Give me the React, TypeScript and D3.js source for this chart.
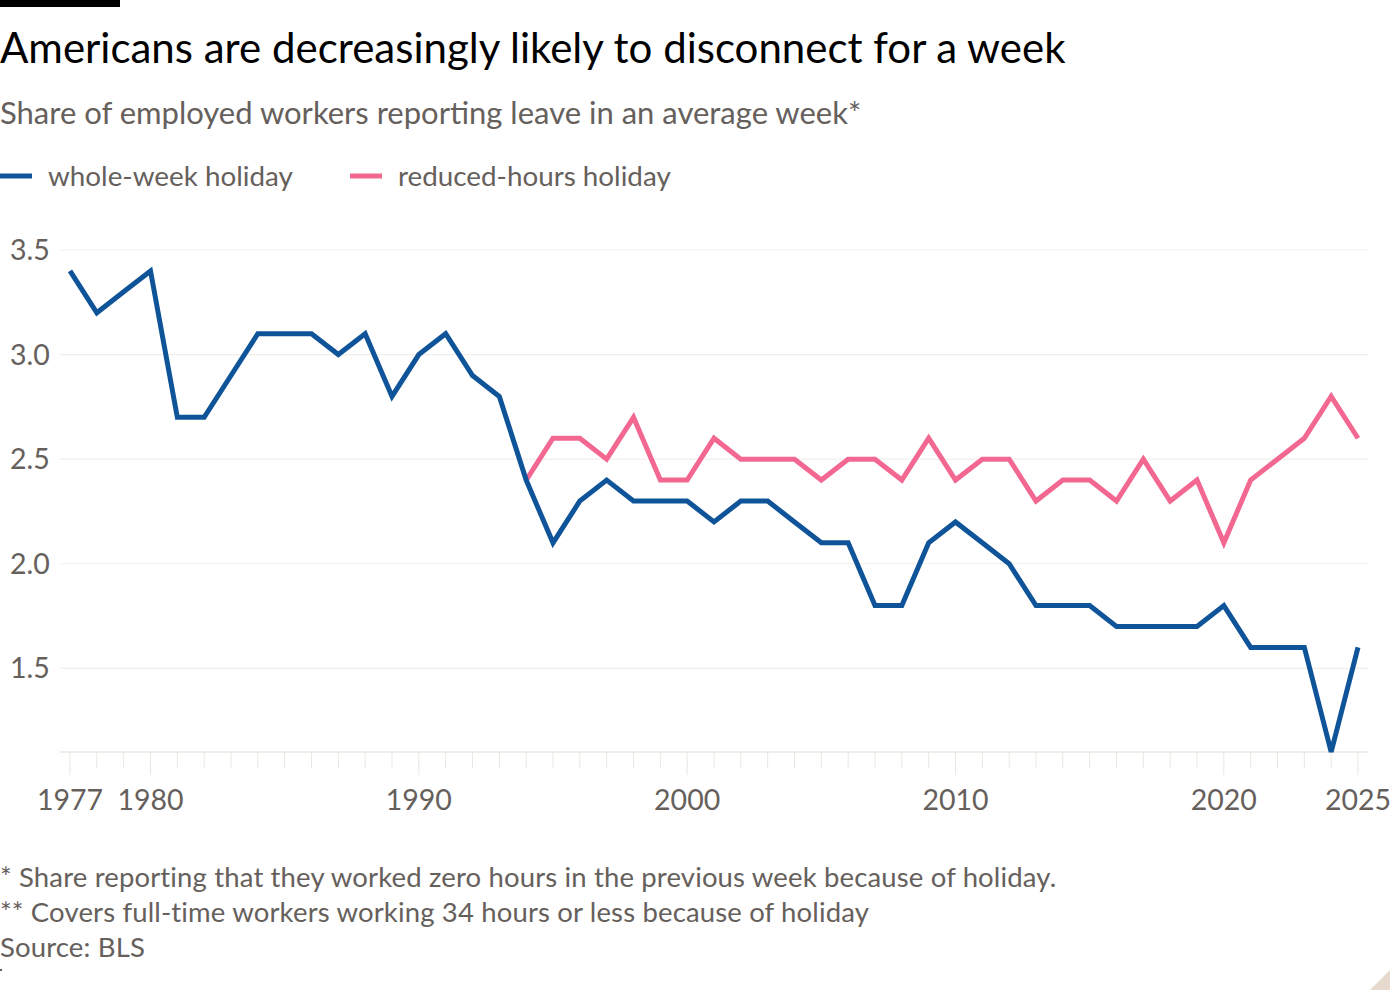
import React, { useEffect, useRef } from 'react';
import * as d3 from 'd3';

const years = [
  1977, 1978, 1979, 1980, 1981, 1982, 1983, 1984, 1985, 1986, 1987, 1988, 1989,
  1990, 1991, 1992, 1993, 1994, 1995, 1996, 1997, 1998, 1999, 2000, 2001, 2002,
  2003, 2004, 2005, 2006, 2007, 2008, 2009, 2010, 2011, 2012, 2013, 2014, 2015,
  2016, 2017, 2018, 2019, 2020, 2021, 2022, 2023, 2024, 2025,
];

const wholeWeek = [
  3.4, 3.2, 3.3, 3.4, 2.7, 2.7, 2.9, 3.1, 3.1, 3.1, 3.0, 3.1, 2.8,
  3.0, 3.1, 2.9, 2.8, 2.4, 2.1, 2.3, 2.4, 2.3, 2.3, 2.3, 2.2, 2.3,
  2.3, 2.2, 2.1, 2.1, 1.8, 1.8, 2.1, 2.2, 2.1, 2.0, 1.8, 1.8, 1.8,
  1.7, 1.7, 1.7, 1.7, 1.8, 1.6, 1.6, 1.6, 1.1, 1.6,
];

// reduced-hours series starts in 1994
const reducedYears = years.slice(17);
const reducedHours = [
  2.4, 2.6, 2.6, 2.5, 2.7, 2.4, 2.4, 2.6, 2.5, 2.5, 2.5, 2.4, 2.5,
  2.5, 2.4, 2.6, 2.4, 2.5, 2.5, 2.3, 2.4, 2.4, 2.3, 2.5, 2.3, 2.4,
  2.1, 2.4, 2.5, 2.6, 2.8, 2.6,
];

const yTicks = [1.5, 2.0, 2.5, 3.0, 3.5];
const xTickLabels = [1977, 1980, 1990, 2000, 2010, 2020, 2025];

const series = [
  { name: 'whole-week holiday', color: '#0f5499', xs: years, ys: wholeWeek },
  { name: 'reduced-hours holiday', color: '#f26891', xs: reducedYears, ys: reducedHours },
];

const FONT = 'Lato, "Noto Sans", sans-serif';
const GREY = '#66605c';

export default function App() {
  const svgRef = useRef<SVGSVGElement>(null);

  useEffect(() => {
    document.body.style.margin = '0';
    if (!svgRef.current) return;
    const width = 1400;
    const height = 1000;
    const svg = d3.select(svgRef.current);
    svg.selectAll('*').remove();
    svg.attr('width', width).attr('height', height).attr('viewBox', [0, 0, width, height])
      .style('font-family', FONT).style('background', '#fff').style('display', 'block');

    const x = d3.scaleLinear().domain([1977, 2025]).range([70, 1358]);
    const y = d3.scaleLinear().domain([1.1, 3.5]).range([752, 250]);

    // top bar
    svg.append('rect').attr('x', 0).attr('y', 0).attr('width', 120).attr('height', 7).attr('fill', '#000');

    svg.append('text').attr('x', 0).attr('y', 63)
      .attr('font-size', 42).attr('fill', '#000')
      .text('Americans are decreasingly likely to disconnect for a week');

    svg.append('text').attr('x', 0).attr('y', 124)
      .attr('font-size', 31).attr('fill', GREY)
      .text('Share of employed workers reporting leave in an average week*');

    // legend
    const legendX = [0, 350];
    series.forEach((s, i) => {
      const g = svg.append('g').attr('transform', `translate(${legendX[i]},176)`);
      g.append('line').attr('x1', 0).attr('x2', 32).attr('y1', 0).attr('y2', 0)
        .attr('stroke', s.color).attr('stroke-width', 5);
      g.append('text').attr('x', 48).attr('y', 0).attr('dy', '0.35em')
        .attr('font-size', 27.8).attr('fill', GREY).text(s.name);
    });

    // gridlines + y labels
    const grid = svg.append('g');
    yTicks.forEach((t) => {
      grid.append('line').attr('x1', 60).attr('x2', 1368).attr('y1', y(t)).attr('y2', y(t))
        .attr('stroke', '#f2efeb').attr('stroke-width', 1.2);
      grid.append('text').attr('x', 10).attr('y', y(t)).attr('dy', '0.35em')
        .attr('font-size', 28.5).attr('fill', GREY).text(d3.format('.1f')(t));
    });

    // x axis
    const axis = svg.append('g');
    axis.append('line').attr('x1', 60).attr('x2', 1368).attr('y1', y(1.1)).attr('y2', y(1.1))
      .attr('stroke', '#ebe6e0').attr('stroke-width', 1.5);
    years.forEach((yr) => {
      const major = xTickLabels.includes(yr);
      axis.append('line').attr('x1', x(yr)).attr('x2', x(yr))
        .attr('y1', y(1.1)).attr('y2', y(1.1) + (major ? 23 : 16))
        .attr('stroke', '#ebe6e0').attr('stroke-width', 1);
    });
    xTickLabels.forEach((yr) => {
      axis.append('text').attr('x', x(yr)).attr('y', 800).attr('dy', '0.35em')
        .attr('text-anchor', 'middle').attr('font-size', 28.5).attr('fill', GREY).text(yr);
    });

    // lines
    const line = d3.line<[number, number]>().x((d) => x(d[0])).y((d) => y(d[1]));
    series.slice().reverse().forEach((s) => {
      const pts = s.xs.map((v, i) => [v, s.ys[i]] as [number, number]);
      svg.append('path').attr('d', line(pts)).attr('fill', 'none')
        .attr('stroke', s.color).attr('stroke-width', 5)
        .attr('stroke-linejoin', 'miter').attr('stroke-linecap', 'butt');
    });

    // footnotes
    const notes = [
      '* Share reporting that they worked zero hours in the previous week because of holiday.',
      '** Covers full-time workers working 34 hours or less because of holiday',
      'Source: BLS',
    ];
    notes.forEach((n, i) => {
      svg.append('text').attr('x', 0).attr('y', 877 + i * 35).attr('dy', '0.35em')
        .attr('font-size', 27.5).attr('letter-spacing', 0.15).attr('fill', GREY).text(n);
    });
    svg.append('rect').attr('x', 0).attr('y', 969).attr('width', 2).attr('height', 2).attr('fill', GREY);

    // corner mark
    svg.append('path').attr('d', 'M1390,970 L1390,990 L1370,990 Z').attr('fill', '#e6d9ce');
  }, []);

  return <svg ref={svgRef} />;
}
